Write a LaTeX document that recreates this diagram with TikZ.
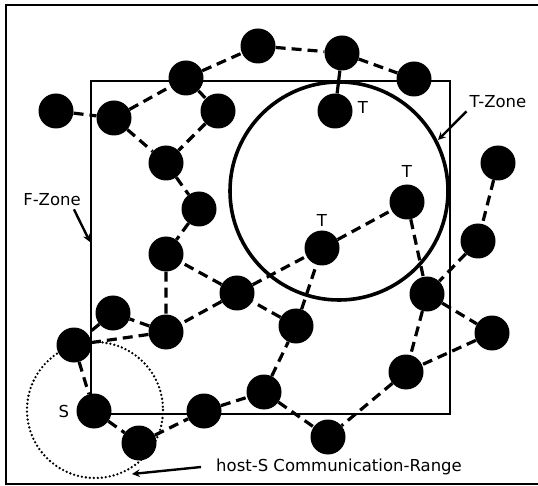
\documentclass[tikz,border=0pt]{standalone}
\usepackage{fontspec}
\setmainfont{DejaVu Sans}
\usepackage{tikz}
\usetikzlibrary{arrows}

\begin{document}
\begin{tikzpicture}[
	x=1pt, y=-1pt,
	host/.style={
		circle, fill=black,
		inner sep=0pt,
		minimum size=35pt
	},
	link/.style={line width=3.2pt, dash pattern=on 10pt off 6pt},
	tag/.style={font=\fontsize{16.5}{19}\selectfont, inner sep=1pt},
	pointer/.style={-stealth, line width=2.4pt}
]
\useasboundingbox (0,0) rectangle (538,486);
\draw[line width=2.6pt] (538,5) -- (6,5) -- (6,484) -- (538,484);
\draw[line width=1.6pt] (91,81) rectangle (450,414);
\draw[line width=3.6pt] (339,191) circle (109);
\draw[line width=2.6pt, dash pattern=on 0pt off 4pt, line cap=round] (95,410) circle (68);

\node[host] (h1) at (56,111) {};
\node[host] (h2) at (114,118) {};
\node[host] (h3) at (186,78) {};
\node[host] (h4) at (218,111) {};
\node[host] (h5) at (166,163) {};
\node[host] (h6) at (199,209) {};
\node[host] (h7) at (258,46) {};
\node[host] (h8) at (342,53) {};
\node[host] (h9) at (414,79) {};
\node[host, label={[tag, label distance=4pt, yshift=4pt]0:T}] (t1) at (335,111) {};
\node[host, label={[tag, label distance=6pt]90:T}] (t2) at (407,202) {};
\node[host, label={[tag, label distance=3pt]90:T}] (t3) at (322,248) {};
\node[host] (h10) at (498,163) {};
\node[host] (h11) at (478,241) {};
\node[host] (h12) at (427,294) {};
\node[host] (h13) at (492,333) {};
\node[host] (h14) at (406,372) {};
\node[host] (h15) at (328,437) {};
\node[host] (h16) at (296,326) {};
\node[host] (h17) at (237,293) {};
\node[host] (h18) at (166,254) {};
\node[host] (h19) at (166,332) {};
\node[host] (h20) at (113,313) {};
\node[host] (h21) at (74,345) {};
\node[host, label={[tag, label distance=6pt]180:S}] (s) at (94,411) {};
\node[host] (h22) at (139,443) {};
\node[host] (h23) at (204,411) {};
\node[host] (h24) at (264,392) {};

\draw[link] (h1) -- (h2) (h2) -- (h3) (h3) -- (h7) (h2) -- (h5)
	(h3) -- (h4) (h4) -- (h5) (h5) -- (h6) (h6) -- (h18)
	(h7) -- (h8) (h8) -- (h9) (t3) -- (t2) (t2) -- (h12)
	(h10) -- (h11) (h11) -- (h12) (h12) -- (h13) (h13) -- (h14)
	(h12) -- (h14) (h14) -- (h15) (h24) -- (h15) (h24) -- (h16)
	(h16) -- (t3) (h16) -- (h17) (h17) -- (t3) (h17) -- (h18)
	(h17) -- (h19) (h18) -- (h19) (h19) -- (h20) (h19) -- (h21)
	(h20) -- (h21) (h21) -- (s) (s) -- (h22) (h22) -- (h23)
	(h23) -- (h24);
\draw[line width=3.2pt] (h8) -- (t1);

% zone labels
\node[tag] (fzone) at (52,200) {F-Zone};
\node[tag] (tzone) at (498,102) {T-Zone};
\node[tag] (range) at (339,467) {host-S Communication-Range};
\coordinate (fend) at (90,242);
\coordinate (tend) at (438,140);
\coordinate (rend) at (132,474);
\draw[pointer] (fzone.south east) ++(-8pt,-2pt) -- (fend);
\draw[pointer] (tzone.south west) ++(-2pt,-2pt) -- (tend);
\draw[pointer] (range.west) ++(-14pt,0pt) -- (rend);
\end{tikzpicture}
\end{document}
